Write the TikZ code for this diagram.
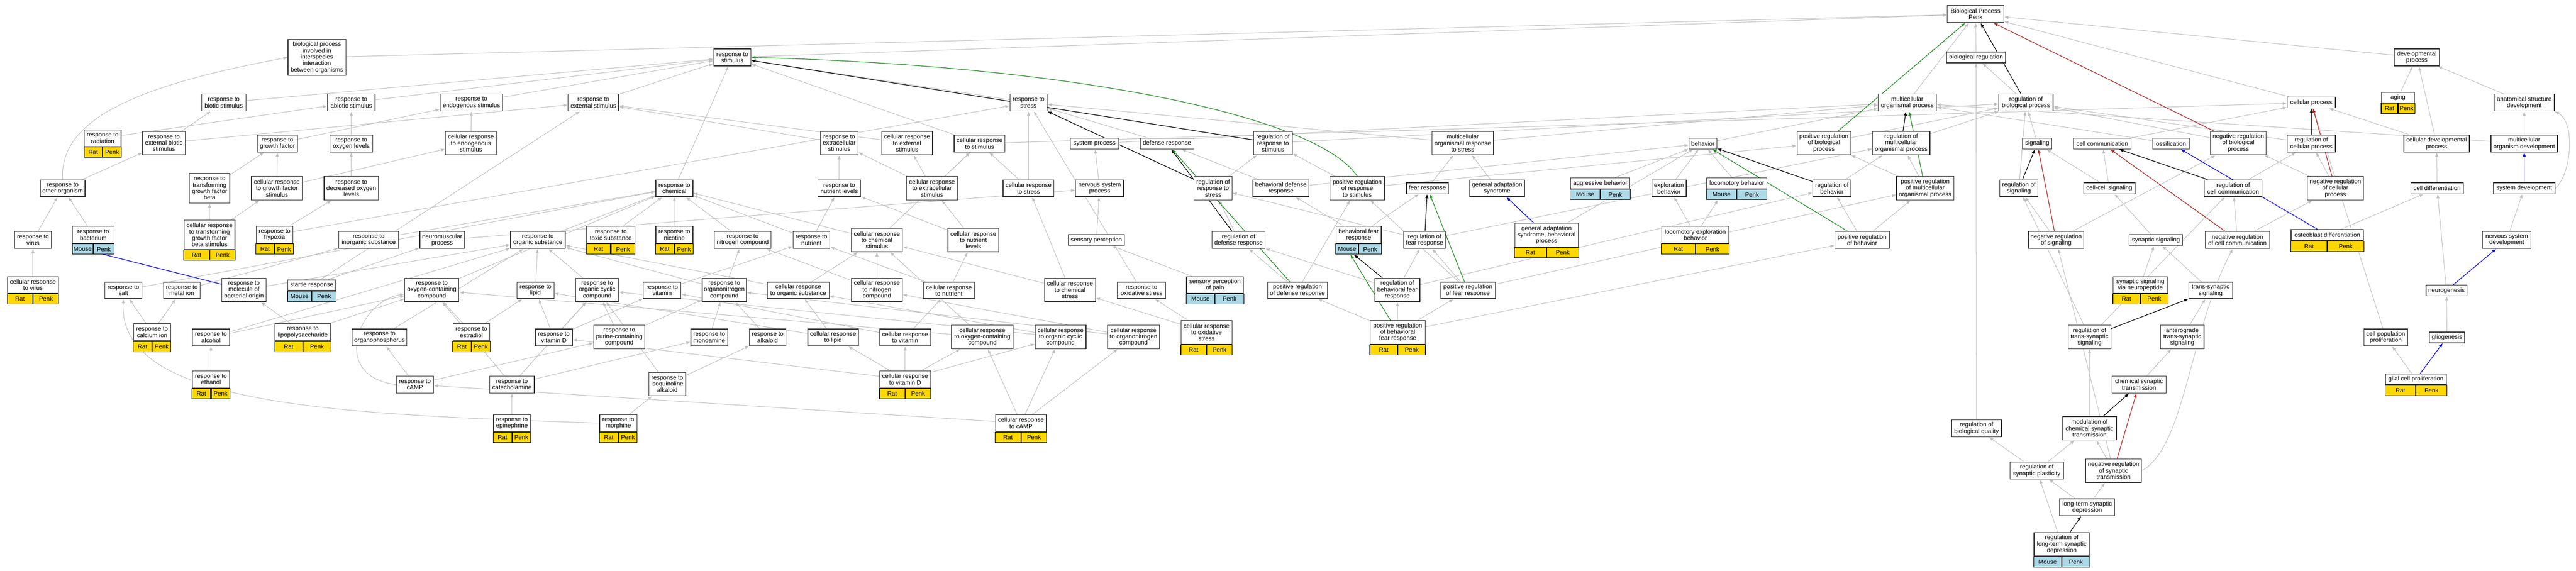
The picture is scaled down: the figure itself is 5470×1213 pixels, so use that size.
\documentclass[tikz,border=0pt]{standalone}
\usepackage{fontspec}
\setmainfont{Liberation Sans}
\usetikzlibrary{shapes, arrows.meta, backgrounds}

\definecolor{edgegrey}{RGB}{192,192,192}
\definecolor{boxline}{RGB}{50,50,50}
\definecolor{ratgold}{RGB}{255,215,0}
\definecolor{mouseblue}{RGB}{173,216,230}
\definecolor{posgreen}{RGB}{34,139,34}
\definecolor{negred}{RGB}{178,34,34}
\definecolor{partblue}{RGB}{0,0,255}

\newcommand{\termfont}{\fontsize{12.9pt}{13.5pt}\selectfont}

% species + gene cells under a term: node, half width, species, colour
\newcommand{\tagrow}[4]{%
  \node[tag, fill=#4, minimum width=#2pt, anchor=north east] (#1-sp) at (#1.south) {#3};
  \node[tag, fill=#4, minimum width=#2pt, anchor=north west] (#1-gene) at (#1.south) {Penk};
}

\begin{document}
\begin{tikzpicture}[x=1pt, y=-1pt]
      \tikzstyle{term} = [
        rectangle,
        draw=boxline,
        line width=1.4pt,
        fill=white,
        align=center,
        inner sep=1pt,
        font=\termfont
      ]

      \tikzstyle{tag} = [
        rectangle,
        draw=black,
        line width=1.2pt,
        minimum height=22pt,
        inner sep=0pt,
        font=\termfont
      ]

      \tikzstyle{oneline} = [minimum height=23pt]
      \tikzstyle{twoline} = [minimum height=36pt]
      \tikzstyle{threeline} = [minimum height=50pt]
      \tikzstyle{fourline} = [minimum height=63pt]
      \tikzstyle{fiveline} = [minimum height=76pt]

      \tikzstyle{isa} = [draw=edgegrey, line width=1.1pt, -{Latex[length=9pt, width=7pt]}]
      \tikzstyle{regulates} = [draw=black, line width=1.3pt, -{Latex[length=9pt, width=7pt]}]
      \tikzstyle{posreg} = [draw=posgreen, line width=1.3pt, -{Latex[length=9pt, width=7pt]}]
      \tikzstyle{negreg} = [draw=negred, line width=1.3pt, -{Latex[length=9pt, width=7pt]}]
      \tikzstyle{partof} = [draw=partblue, line width=1.3pt, -{Latex[length=9pt, width=7pt]}]

      \useasboundingbox (0,0) rectangle (5470,1213);

      % top terms
      \node[term, fiveline, minimum width=123pt] (bpinter) at (673,122) {biological process\\involved in\\interspecies\\interaction\\between organisms};
      \node[term, twoline, minimum width=79pt] (stimulus) at (1555,122) {response to\\stimulus};
      \node[term, twoline, minimum width=120pt] (root) at (4195,30) {Biological Process\\Penk};
      \node[term, oneline, minimum width=125pt] (bioreg) at (4196,122) {biological regulation};
      \node[term, twoline, minimum width=95pt] (devproc) at (5132,122) {developmental\\process};

      % second row
      \node[term, twoline, minimum width=94pt] (biotic) at (475,218) {response to\\biotic stimulus};
      \node[term, twoline, minimum width=101pt] (abiotic) at (746,218) {response to\\abiotic stimulus};
      \node[term, twoline, minimum width=133pt] (endogenous) at (1001,218) {response to\\endogenous stimulus};
      \node[term, twoline, minimum width=108pt] (external) at (1260,218) {response to\\external stimulus};
      \node[term, twoline, minimum width=79pt] (stress) at (2184,218) {response to\\stress};
      \node[term, twoline, minimum width=123pt] (multiproc) at (4050,218) {multicellular\\organismal process};
      \node[term, twoline, minimum width=115pt] (regbio) at (4302,218) {regulation of\\biological process};
      \node[term, oneline, minimum width=102pt] (cellproc) at (4908,218) {cellular process};
      \node[term, minimum height=22pt, minimum width=70pt] (aging) at (5092,207) {aging};
      \node[term, twoline, minimum width=128pt] (anatomical) at (5360,218) {anatomical structure\\development};

      % third row
      \node[term, minimum height=35pt, minimum width=78pt] (radiation) at (218,293.5) {response to\\radiation};
      \node[term, threeline, minimum width=90pt] (extbiotic) at (348,304) {response to\\external biotic\\stimulus};
      \node[term, twoline, minimum width=85pt] (growthfactor) at (589,305) {response to\\growth factor};
      \node[term, twoline, minimum width=91pt] (oxygenlevels) at (746,305) {response to\\oxygen levels};
      \node[term, threeline, minimum width=108pt] (cellendog) at (1000,304) {cellular response\\to endogenous\\stimulus};
      \node[term, threeline, minimum width=80pt] (extracellular) at (1782,304) {response to\\extracellular\\stimulus};
      \node[term, threeline, minimum width=108pt] (cellexternal) at (1926,304) {cellular response\\to external\\stimulus};
      \node[term, twoline, minimum width=108pt] (cellstimulus) at (2080,305) {cellular response\\to stimulus};
      \node[term, oneline, minimum width=103pt] (systemprocess) at (2324,305) {system process};
      \node[term, oneline, minimum width=114pt] (defense) at (2478,305) {defense response};
      \node[term, threeline, minimum width=82pt] (regstimulus) at (2703,304) {regulation of\\response to\\stimulus};
      \node[term, threeline, minimum width=131pt] (multistress) at (3106,304) {multicellular\\organismal response\\to stress};
      \node[term, oneline, minimum width=59pt] (behavior) at (3616,305) {behavior};
      \node[term, threeline, minimum width=114pt] (posbio) at (3873,304) {positive regulation\\of biological\\process};
      \node[term, threeline, minimum width=122pt] (regmulti) at (4037,304) {regulation of\\multicellular\\organismal process};
      \node[term, oneline, minimum width=62pt] (signaling) at (4326,305) {signaling};
      \node[term, oneline, minimum width=122pt] (cellcomm) at (4464,305) {cell communication};
      \node[term, oneline, minimum width=77pt] (ossification) at (4610,305) {ossification};
      \node[term, threeline, minimum width=118pt] (negbio) at (4753,304) {negative regulation\\of biological\\process};
      \node[term, twoline, minimum width=102pt] (regcell) at (4908,305) {regulation of\\cellular process};
      \node[term, twoline, minimum width=139pt] (celldev) at (5174,305) {cellular developmental\\process};
      \node[term, twoline, minimum width=141pt] (multidev) at (5360,305) {multicellular\\organism development};

      % fourth row
      \node[term, twoline, minimum width=95pt] (otherorg) at (133,400) {response to\\other organism};
      \node[term, fourline, minimum width=86pt] (tgfbeta) at (445,400) {response to\\transforming\\growth factor\\beta};
      \node[term, threeline, minimum width=108pt] (cellgf) at (588,400) {cellular response\\to growth factor\\stimulus};
      \node[term, threeline, minimum width=116pt] (decoxygen) at (746,400) {response to\\decreased oxygen\\levels};
      \node[term, twoline, minimum width=79pt] (chemical) at (1432,400) {response to\\chemical};
      \node[term, twoline, minimum width=91pt] (nutrientlevels) at (1782,400) {response to\\nutrient levels};
      \node[term, threeline, minimum width=108pt] (cellextracellular) at (1979,400) {cellular response\\to extracellular\\stimulus};
      \node[term, twoline, minimum width=108pt] (cellstress) at (2184,400) {cellular response\\to stress};
      \node[term, twoline, minimum width=102pt] (nervoussys) at (2335,400) {nervous system\\process};
      \node[term, threeline, minimum width=81pt] (regstress) at (2576,400) {regulation of\\response to\\stress};
      \node[term, twoline, minimum width=119pt] (behavdefense) at (2720,400) {behavioral defense\\response};
      \node[term, threeline, minimum width=115pt] (posstimulus) at (2882,400) {positive regulation\\of response\\to stimulus};
      \node[term, oneline, minimum width=89pt] (fear) at (3031,400) {fear response};
      \node[term, twoline, minimum width=116pt] (gas) at (3179,400) {general adaptation\\syndrome};
      \node[term, oneline, minimum width=126pt] (aggressive) at (3398,389.5) {aggressive behavior};
      \node[term, twoline, minimum width=73pt] (exploration) at (3544,400) {exploration\\behavior};
      \node[term, oneline, minimum width=127pt] (locomotory) at (3688,389.5) {locomotory behavior};
      \node[term, twoline, minimum width=81pt] (regbehavior) at (3890,400) {regulation of\\behavior};
      \node[term, threeline, minimum width=122pt] (posmulti) at (4088,400) {positive regulation\\of multicellular\\organismal process};
      \node[term, twoline, minimum width=81pt] (regsignaling) at (4287,400) {regulation of\\signaling};
      \node[term, oneline, minimum width=109pt] (cellcell) at (4479,400) {cell-cell signaling};
      \node[term, twoline, minimum width=123pt] (regcomm) at (4742,400) {regulation of\\cell communication};
      \node[term, threeline, minimum width=119pt] (negcell) at (4959,400) {negative regulation\\of cellular\\process};
      \node[term, oneline, minimum width=111pt] (celldiff) at (5175,400) {cell differentiation};
      \node[term, oneline, minimum width=131pt] (sysdev) at (5360,400) {system development};

      % fifth row
      \node[term, twoline, minimum width=78pt] (virus) at (70,510) {response to\\virus};
      \node[term, twoline, minimum width=88pt] (bacterium) at (198,499) {response to\\bacterium};
      \node[term, minimum height=62pt, minimum width=108pt] (celltgf) at (445,499) {cellular response\\to transforming\\growth factor\\beta stimulus};
      \node[term, twoline, minimum width=78pt] (hypoxia) at (583,499) {response to\\hypoxia};
      \node[term, twoline, minimum width=127pt] (inorganic) at (783,510) {response to\\inorganic substance};
      \node[term, twoline, minimum width=95pt] (neuromuscular) at (939,510) {neuromuscular\\process};
      \node[term, twoline, minimum width=116pt] (organic) at (1142,510) {response to\\organic substance};
      \node[term, twoline, minimum width=102pt] (toxic) at (1297,499) {response to\\toxic substance};
      \node[term, twoline, minimum width=79pt] (nicotine) at (1432,499) {response to\\nicotine};
      \node[term, twoline, minimum width=121pt] (nitrogen) at (1577,510) {response to\\nitrogen compound};
      \node[term, twoline, minimum width=78pt] (nutrient) at (1723,510) {response to\\nutrient};
      \node[term, threeline, minimum width=108pt] (cellchemical) at (1862,510) {cellular response\\to chemical\\stimulus};
      \node[term, threeline, minimum width=108pt] (cellnutrientlevels) at (2067,510) {cellular response\\to nutrient\\levels};
      \node[term, oneline, minimum width=120pt] (sensory) at (2328,510) {sensory perception};
      \node[term, twoline, minimum width=113pt] (regdefense) at (2630,510) {regulation of\\defense response};
      \node[term, twoline, minimum width=96pt] (behavfear) at (2885,499) {behavioral fear\\response};
      \node[term, twoline, minimum width=89pt] (regfear) at (3025,510) {regulation of\\fear response};
      \node[term, threeline, minimum width=135pt] (gasbehav) at (3284,499.5) {general adaptation\\syndrome, behavioral\\process};
      \node[term, twoline, minimum width=143pt] (locoexpl) at (3600,499) {locomotory exploration\\behavior};
      \node[term, twoline, minimum width=115pt] (posbehavior) at (3954,510) {positive regulation\\of behavior};
      \node[term, twoline, minimum width=118pt] (negsignaling) at (4366,510) {negative regulation\\of signaling};
      \node[term, oneline, minimum width=114pt] (synaptic) at (4578,510) {synaptic signaling};
      \node[term, twoline, minimum width=137pt] (negcomm) at (4751,510) {negative regulation\\of cell communication};
      \node[term, oneline, minimum width=154pt] (osteoblast) at (4942,499.5) {osteoblast differentiation};
      \node[term, twoline, minimum width=103pt] (nsdev) at (5323,510) {nervous system\\development};

      % sixth row
      \node[term, minimum height=35pt, minimum width=108pt] (cellvirus) at (70,605.5) {cellular response\\to virus};
      \node[term, minimum height=35pt, minimum width=79pt] (salt) at (262,617) {response to\\salt};
      \node[term, minimum height=35pt, minimum width=78pt] (metalion) at (386,617) {response to\\metal ion};
      \node[term, threeline, minimum width=94pt] (bactmolecule) at (518,616) {response to\\molecule of\\bacterial origin};
      \node[term, minimum height=22pt, minimum width=102pt] (startle) at (662,606) {startle response};
      \node[term, threeline, minimum width=115pt] (oxygencont) at (917,616) {response to\\oxygen-containing\\compound};
      \node[term, minimum height=35pt, minimum width=79pt] (lipid) at (1137,617) {response to\\lipid};
      \node[term, threeline, minimum width=91pt] (organiccyclic) at (1268,616) {response to\\organic cyclic\\compound};
      \node[term, minimum height=35pt, minimum width=80pt] (vitamin) at (1406,617) {response to\\vitamin};
      \node[term, threeline, minimum width=94pt] (organonitrogen) at (1538,616) {response to\\organonitrogen\\compound};
      \node[term, minimum height=35pt, minimum width=131pt] (cellorganic) at (1695,617) {cellular response\\to organic substance};
      \node[term, threeline, minimum width=108pt] (cellnitrogen) at (1862,616) {cellular response\\to nitrogen\\compound};
      \node[term, minimum height=35pt, minimum width=108pt] (cellnutrient) at (2015,617) {cellular response\\to nutrient};
      \node[term, threeline, minimum width=108pt] (cellchemstress) at (2272,616) {cellular response\\to chemical\\stress};
      \node[term, minimum height=35pt, minimum width=103pt] (oxidative) at (2424,617) {response to\\oxidative stress};
      \node[term, minimum height=35pt, minimum width=121pt] (pain) at (2580,605.5) {sensory perception\\of pain};
      \node[term, minimum height=35pt, minimum width=127pt] (posdefense) at (2755,617) {positive regulation\\of defense response};
      \node[term, threeline, minimum width=96pt] (regbehavfear) at (2967,616) {regulation of\\behavioral fear\\response};
      \node[term, minimum height=35pt, minimum width=116pt] (posfear) at (3117,617) {positive regulation\\of fear response};
      \node[term, minimum height=35pt, minimum width=116pt] (synneuro) at (4545,605.5) {synaptic signaling\\via neuropeptide};
      \node[term, minimum height=35pt, minimum width=93pt] (transsyn) at (4694,617) {trans-synaptic\\signaling};
      \node[term, oneline, minimum width=87pt] (neurogenesis) at (5195,617) {neurogenesis};

      % seventh row
      \node[term, twoline, minimum width=79pt] (calcium) at (323,706) {response to\\calcium ion};
      \node[term, twoline, minimum width=79pt] (alcohol) at (448,717) {response to\\alcohol};
      \node[term, twoline, minimum width=118pt] (lps) at (643,706) {response to\\lipopolysaccharide};
      \node[term, twoline, minimum width=116pt] (organophos) at (806,717) {response to\\organophosphorus};
      \node[term, twoline, minimum width=78pt] (estradiol) at (1001,706) {response to\\estradiol};
      \node[term, twoline, minimum width=79pt] (vitaminD) at (1176,717) {response to\\vitamin D};
      \node[term, threeline, minimum width=108pt] (purine) at (1315,716) {response to\\purine-containing\\compound};
      \node[term, twoline, minimum width=78pt] (monoamine) at (1506,717) {response to\\monoamine};
      \node[term, twoline, minimum width=78pt] (alkaloid) at (1630,717) {response to\\alkaloid};
      \node[term, twoline, minimum width=107pt] (celllipid) at (1769,717) {cellular response\\to lipid};
      \node[term, twoline, minimum width=108pt] (cellvitamin) at (1922,717) {cellular response\\to vitamin};
      \node[term, threeline, minimum width=131pt] (celloxygen) at (2086,716) {cellular response\\to oxygen-containing\\compound};
      \node[term, threeline, minimum width=108pt] (cellcyclic) at (2252,716) {cellular response\\to organic cyclic\\compound};
      \node[term, threeline, minimum width=110pt] (cellorganonitrogen) at (2407,716) {cellular response\\to organonitrogen\\compound};
      \node[term, threeline, minimum width=108pt] (celloxidative) at (2562,706) {cellular response\\to oxidative\\stress};
      \node[term, threeline, minimum width=117pt] (posbehavfear) at (2968,706) {positive regulation\\of behavioral\\fear response};
      \node[term, threeline, minimum width=91pt] (regtranssyn) at (4437,716) {regulation of\\trans-synaptic\\signaling};
      \node[term, threeline, minimum width=92pt] (antero) at (4634,716) {anterograde\\trans-synaptic\\signaling};
      \node[term, twoline, minimum width=93pt] (cellpop) at (5066,717) {cell population\\proliferation};
      \node[term, oneline, minimum width=74pt] (gliogenesis) at (5196,717) {gliogenesis};

      % lower rows
      \node[term, twoline, minimum width=79pt] (ethanol) at (448,806) {response to\\ethanol};
      \node[term, twoline, minimum width=79pt] (camp) at (881,817) {response to\\cAMP};
      \node[term, twoline, minimum width=95pt] (catecholamine) at (1087,817) {response to\\catecholamine};
      \node[term, threeline, minimum width=78pt] (isoquinoline) at (1417,816) {response to\\isoquinoline\\alkaloid};
      \node[term, twoline, minimum width=108pt] (cellvitaminD) at (1922,806) {cellular response\\to vitamin D};
      \node[term, twoline, minimum width=115pt] (chemsyn) at (4542,817) {chemical synaptic\\transmission};
      \node[term, minimum height=22pt, minimum width=130pt] (glialprolif) at (5130,806) {glial cell proliferation};
      \node[term, twoline, minimum width=78pt] (epinephrine) at (1087,899) {response to\\epinephrine};
      \node[term, twoline, minimum width=79pt] (morphine) at (1313,899) {response to\\morphine};
      \node[term, twoline, minimum width=108pt] (cellcamp) at (2168,899) {cellular response\\to cAMP};
      \node[term, twoline, minimum width=106pt] (regbioqual) at (4197,910) {regulation of\\biological quality};
      \node[term, threeline, minimum width=114pt] (modulation) at (4437,910) {modulation of\\chemical synaptic\\transmission};
      \node[term, twoline, minimum width=114pt] (regplasticity) at (4325,1000) {regulation of\\synaptic plasticity};
      \node[term, threeline, minimum width=119pt] (negsyn) at (4488,1000) {negative regulation\\of synaptic\\transmission};
      \node[term, twoline, minimum width=117pt] (ltd) at (4432,1078) {long-term synaptic\\depression};
      \node[term, threeline, minimum width=118pt] (regltd) at (4378,1156.5) {regulation of\\long-term synaptic\\depression};

      % annotated terms
      \tagrow{aging}{35}{Rat}{ratgold}
      \tagrow{radiation}{39}{Rat}{ratgold}
      \tagrow{aggressive}{63}{Mouse}{mouseblue}
      \tagrow{locomotory}{63.5}{Mouse}{mouseblue}
      \tagrow{bacterium}{44}{Mouse}{mouseblue}
      \tagrow{celltgf}{54}{Rat}{ratgold}
      \tagrow{hypoxia}{39}{Rat}{ratgold}
      \tagrow{toxic}{51}{Rat}{ratgold}
      \tagrow{nicotine}{39.5}{Rat}{ratgold}
      \tagrow{behavfear}{48}{Mouse}{mouseblue}
      \tagrow{gasbehav}{67.5}{Rat}{ratgold}
      \tagrow{locoexpl}{71.5}{Rat}{ratgold}
      \tagrow{osteoblast}{77}{Rat}{ratgold}
      \tagrow{cellvirus}{54}{Rat}{ratgold}
      \tagrow{startle}{51}{Mouse}{mouseblue}
      \tagrow{pain}{60.5}{Mouse}{mouseblue}
      \tagrow{synneuro}{58}{Rat}{ratgold}
      \tagrow{calcium}{39.5}{Rat}{ratgold}
      \tagrow{lps}{59}{Rat}{ratgold}
      \tagrow{estradiol}{39}{Rat}{ratgold}
      \tagrow{celloxidative}{54}{Rat}{ratgold}
      \tagrow{posbehavfear}{58.5}{Rat}{ratgold}
      \tagrow{ethanol}{39.5}{Rat}{ratgold}
      \tagrow{cellvitaminD}{54}{Rat}{ratgold}
      \tagrow{glialprolif}{65}{Rat}{ratgold}
      \tagrow{epinephrine}{39}{Rat}{ratgold}
      \tagrow{morphine}{39.5}{Rat}{ratgold}
      \tagrow{cellcamp}{54}{Rat}{ratgold}
      \tagrow{regltd}{59}{Mouse}{mouseblue}

      \begin{pgfonlayer}{background}
      \fill[white] (0,0) rectangle (5470,1213);

      % is_a
      \draw[isa] (bpinter) -- (root);
      \draw[isa] (stimulus) -- (root);
      \draw[isa] (multiproc) -- (root);
      \draw[isa] (bioreg) -- (root);
      \draw[isa] (cellproc) -- (root);
      \draw[isa] (devproc) -- (root);
      \draw[isa] (biotic) -- (stimulus);
      \draw[isa] (abiotic) -- (stimulus);
      \draw[isa] (endogenous) -- (stimulus);
      \draw[isa] (external) -- (stimulus);
      \draw[isa] (stress) -- (stimulus);
      \draw[isa] (chemical) -- (stimulus);
      \draw[isa] (cellstimulus) -- (stimulus);
      \draw[isa] (cellstimulus) -- (cellproc);
      \draw[isa] (radiation) -- (abiotic);
      \draw[isa] (extbiotic) -- (biotic);
      \draw[isa] (extbiotic) -- (external);
      \draw[isa] (otherorg) -- (extbiotic);
      \draw[isa] (otherorg.north) .. controls (125,250) and (300,180) .. (bpinter.west);
      \draw[isa] (virus) -- (otherorg);
      \draw[isa] (bacterium) -- (otherorg);
      \draw[isa] (cellvirus) -- (virus);
      \draw[isa] (growthfactor) -- (endogenous);
      \draw[isa] (tgfbeta) -- (growthfactor);
      \draw[isa] (cellgf) -- (growthfactor);
      \draw[isa] (cellgf) -- (cellendog);
      \draw[isa] (celltgf) -- (tgfbeta);
      \draw[isa] (celltgf) -- (cellgf);
      \draw[isa] (oxygenlevels) -- (abiotic);
      \draw[isa] (decoxygen) -- (oxygenlevels);
      \draw[isa] (hypoxia) -- (decoxygen);
      \draw[isa] (hypoxia) -- (stress);
      \draw[isa] (cellendog) -- (endogenous);
      \draw[isa] (inorganic) -- (chemical);
      \draw[isa] (neuromuscular) -- (nervoussys);
      \draw[isa] (startle) -- (external);
      \draw[isa] (startle) -- (neuromuscular);
      \draw[isa] (salt) -- (chemical);
      \draw[isa] (metalion) -- (inorganic);
      \draw[isa] (calcium) -- (salt);
      \draw[isa] (calcium) -- (metalion);
      \draw[isa] (bactmolecule) -- (organic);
      \draw[isa] (lps) -- (bactmolecule);
      \draw[isa] (lps) -- (oxygencont);
      \draw[isa] (alcohol) -- (oxygencont);
      \draw[isa] (alcohol) -- (organic);
      \draw[isa] (ethanol) -- (alcohol);
      \draw[isa] (organophos) -- (organic);
      \draw[isa] (camp) -- (organophos);
      \draw[isa] (camp) -- (purine);
      \draw[isa] (camp.west) .. controls (700,800) and (760,640) .. (oxygencont);
      \draw[isa] (oxygencont) -- (chemical);
      \draw[isa] (organic) -- (chemical);
      \draw[isa] (toxic) -- (chemical);
      \draw[isa] (nicotine) -- (chemical);
      \draw[isa] (nitrogen) -- (chemical);
      \draw[isa] (nutrient) -- (nutrientlevels);
      \draw[isa] (nutrient) -- (chemical);
      \draw[isa] (nutrientlevels) -- (extracellular);
      \draw[isa] (extracellular) -- (external);
      \draw[isa] (lipid) -- (organic);
      \draw[isa] (organiccyclic) -- (organic);
      \draw[isa] (vitamin) -- (nutrient);
      \draw[isa] (organonitrogen) -- (organic);
      \draw[isa] (organonitrogen) -- (nitrogen);
      \draw[isa] (cellorganic) -- (organic);
      \draw[isa] (cellorganic) -- (cellchemical);
      \draw[isa] (estradiol) -- (lipid);
      \draw[isa] (estradiol) -- (oxygencont);
      \draw[isa] (vitaminD) -- (lipid);
      \draw[isa] (vitaminD) -- (organiccyclic);
      \draw[isa] (vitaminD) -- (vitamin);
      \draw[isa] (purine) -- (organiccyclic);
      \draw[isa] (purine) -- (organonitrogen);
      \draw[isa] (monoamine) -- (organonitrogen);
      \draw[isa] (alkaloid) -- (organonitrogen);
      \draw[isa] (celllipid) -- (lipid);
      \draw[isa] (celllipid) -- (cellorganic);
      \draw[isa] (catecholamine) -- (monoamine);
      \draw[isa] (catecholamine) -- (oxygencont);
      \draw[isa] (catecholamine) -- (organiccyclic);
      \draw[isa] (isoquinoline) -- (alkaloid);
      \draw[isa] (isoquinoline) -- (organiccyclic);
      \draw[isa] (epinephrine) -- (catecholamine);
      \draw[isa] (morphine) -- (isoquinoline);
      \draw[isa] (morphine.west) .. controls (700,880) and (250,860) .. (salt.south);
      \draw[isa] (cellvitaminD) -- (vitaminD);
      \draw[isa] (cellvitaminD) -- (cellvitamin);
      \draw[isa] (cellvitaminD) -- (celloxygen);
      \draw[isa] (cellvitaminD) -- (cellcyclic);
      \draw[isa] (cellvitaminD) -- (celllipid);
      \draw[isa] (cellcamp) -- (camp);
      \draw[isa] (cellcamp) -- (celloxygen);
      \draw[isa] (cellcamp) -- (cellcyclic);
      \draw[isa] (cellcamp) -- (cellorganonitrogen);
      \draw[isa] (cellvitamin) -- (vitamin);
      \draw[isa] (cellvitamin) -- (cellnutrient);
      \draw[isa] (celloxygen) -- (oxygencont);
      \draw[isa] (celloxygen) -- (cellchemical);
      \draw[isa] (cellcyclic) -- (organiccyclic);
      \draw[isa] (cellcyclic) -- (cellorganic);
      \draw[isa] (cellorganonitrogen) -- (organonitrogen);
      \draw[isa] (cellorganonitrogen) -- (cellnitrogen);
      \draw[isa] (cellnitrogen) -- (nitrogen);
      \draw[isa] (cellnitrogen) -- (cellchemical);
      \draw[isa] (cellnutrient) -- (nutrient);
      \draw[isa] (cellnutrient) -- (cellnutrientlevels);
      \draw[isa] (cellchemical) -- (chemical);
      \draw[isa] (cellchemical) -- (cellstimulus);
      \draw[isa] (cellnutrientlevels) -- (nutrientlevels);
      \draw[isa] (cellnutrientlevels) -- (cellextracellular);
      \draw[isa] (cellextracellular) -- (extracellular);
      \draw[isa] (cellextracellular) -- (cellexternal);
      \draw[isa] (cellextracellular) -- (cellstimulus);
      \draw[isa] (cellexternal) -- (external);
      \draw[isa] (cellstress) -- (stress);
      \draw[isa] (cellstress) -- (cellstimulus);
      \draw[isa] (cellchemstress) -- (cellstress);
      \draw[isa] (cellchemstress) -- (cellchemical);
      \draw[isa] (oxidative) -- (stress);
      \draw[isa] (celloxidative) -- (oxidative);
      \draw[isa] (celloxidative) -- (cellchemstress);
      \draw[isa] (pain) -- (sensory);
      \draw[isa] (sensory) -- (nervoussys);
      \draw[isa] (nervoussys) -- (systemprocess);
      \draw[isa] (systemprocess) -- (multiproc);
      \draw[isa] (defense) -- (stress);
      \draw[isa] (regstress) -- (regstimulus);
      \draw[isa] (regdefense) -- (regstress);
      \draw[isa] (posdefense) -- (regdefense);
      \draw[isa] (posdefense) -- (posstimulus);
      \draw[isa] (behavdefense) -- (defense);
      \draw[isa] (behavdefense) -- (behavior);
      \draw[isa] (regstimulus) -- (regbio);
      \draw[isa] (posstimulus) -- (regstimulus);
      \draw[isa] (posstimulus) -- (posbio);
      \draw[isa] (multistress) -- (stress);
      \draw[isa] (multistress) -- (multiproc);
      \draw[isa] (fear) -- (multistress);
      \draw[isa] (gas) -- (multistress);
      \draw[isa] (gasbehav) -- (behavior);
      \draw[isa] (aggressive) -- (behavior);
      \draw[isa] (exploration) -- (behavior);
      \draw[isa] (locomotory) -- (behavior);
      \draw[isa] (locoexpl) -- (exploration);
      \draw[isa] (locoexpl) -- (locomotory-sp);
      \draw[isa] (behavfear) -- (fear);
      \draw[isa] (behavfear) -- (behavdefense);
      \draw[isa] (regfear) -- (regstress);
      \draw[isa] (regfear) -- (regmulti);
      \draw[isa] (regbehavfear) -- (regdefense);
      \draw[isa] (regbehavfear) -- (regfear);
      \draw[isa] (regbehavfear) -- (regbehavior);
      \draw[isa] (posfear) -- (regfear);
      \draw[isa] (posfear) -- (posstimulus);
      \draw[isa] (posfear) -- (posmulti);
      \draw[isa] (posbehavfear) -- (regbehavfear);
      \draw[isa] (posbehavfear) -- (posdefense);
      \draw[isa] (posbehavfear) -- (posfear);
      \draw[isa] (posbehavfear) -- (posbehavior);
      \draw[isa] (behavior) -- (multiproc);
      \draw[isa] (posbio) -- (regbio);
      \draw[isa] (regmulti) -- (regbio);
      \draw[isa] (regbehavior) -- (regmulti);
      \draw[isa] (posmulti) -- (regmulti);
      \draw[isa] (posmulti) -- (posbio);
      \draw[isa] (posbehavior) -- (regbehavior);
      \draw[isa] (posbehavior) -- (posmulti);
      \draw[isa] (regbio) -- (bioreg);
      \draw[isa] (signaling) -- (regbio);
      \draw[isa] (regsignaling) -- (regbio);
      \draw[isa] (negsignaling) -- (regsignaling);
      \draw[isa] (negsignaling) -- (negbio);
      \draw[isa] (cellcomm) -- (cellproc);
      \draw[isa] (cellcell) -- (cellcomm);
      \draw[isa] (cellcell) -- (signaling);
      \draw[isa] (regcomm) -- (regcell);
      \draw[isa] (negcomm) -- (regcomm);
      \draw[isa] (negcomm) -- (negcell);
      \draw[isa] (synaptic) -- (cellcell);
      \draw[isa] (synneuro) -- (synaptic);
      \draw[isa] (transsyn) -- (synaptic);
      \draw[isa] (antero) -- (transsyn);
      \draw[isa] (chemsyn) -- (antero);
      \draw[isa] (regtranssyn) -- (regsignaling);
      \draw[isa] (regtranssyn) -- (regcomm);
      \draw[isa] (modulation) -- (regtranssyn);
      \draw[isa] (negsyn) -- (modulation);
      \draw[isa] (negsyn) -- (negsignaling);
      \draw[isa] (negsyn.east) .. controls (4640,950) and (4650,700) .. (negcomm);
      \draw[isa] (regplasticity) -- (regbioqual);
      \draw[isa] (regplasticity) -- (modulation);
      \draw[isa] (ltd) -- (regplasticity);
      \draw[isa] (ltd) -- (negsyn);
      \draw[isa] (regltd) -- (regplasticity);
      \draw[isa] (regbioqual) -- (bioreg);
      \draw[isa] (negbio) -- (regbio);
      \draw[isa] (regcell) -- (regbio);
      \draw[isa] (negcell) -- (regcell);
      \draw[isa] (negcell) -- (negbio);
      \draw[isa] (ossification) -- (multiproc);
      \draw[isa] (osteoblast) -- (celldiff);
      \draw[isa] (celldiff) -- (celldev);
      \draw[isa] (celldev) -- (devproc);
      \draw[isa] (celldev) -- (cellproc);
      \draw[isa] (aging) -- (devproc);
      \draw[isa] (anatomical) -- (devproc);
      \draw[isa] (multidev) -- (anatomical);
      \draw[isa] (multidev) -- (multiproc);
      \draw[isa] (sysdev.east) .. controls (5460,370) and (5470,260) .. (anatomical.south east);
      \draw[isa] (nsdev) -- (sysdev);
      \draw[isa] (neurogenesis) -- (celldiff);
      \draw[isa] (gliogenesis) -- (neurogenesis);
      \draw[isa] (glialprolif) -- (cellpop);
      \draw[isa] (cellpop) -- (cellproc);

      % regulates
      \draw[regulates] (regbio) -- (root);
      \draw[regulates] (regstimulus) -- (stimulus);
      \draw[regulates] (regstress) -- (stress);
      \draw[regulates] (regdefense) -- (defense);
      \draw[regulates] (regfear) -- (fear);
      \draw[regulates] (regbehavfear) -- (behavfear-sp);
      \draw[regulates] (regmulti) -- (multiproc);
      \draw[regulates] (regbehavior) -- (behavior);
      \draw[regulates] (regsignaling) -- (signaling);
      \draw[regulates] (regcomm) -- (cellcomm);
      \draw[regulates] (regcell) -- (cellproc);
      \draw[regulates] (regtranssyn) -- (transsyn);
      \draw[regulates] (modulation) -- (chemsyn);
      \draw[regulates] (regltd) -- (ltd);

      % positively regulates
      \draw[posreg] (posbio) -- (root);
      \draw[posreg] (posstimulus.north) .. controls (2800,250) and (2300,140) .. (stimulus.east);
      \draw[posreg] (posdefense) -- (defense);
      \draw[posreg] (posfear) -- (fear);
      \draw[posreg] (posbehavfear) -- (behavfear-sp);
      \draw[posreg] (posmulti) -- (multiproc);
      \draw[posreg] (posbehavior) -- (behavior);

      % negatively regulates
      \draw[negreg] (negbio) -- (root);
      \draw[negreg] (negsignaling) -- (signaling);
      \draw[negreg] (negcomm) -- (cellcomm);
      \draw[negreg] (negcell) -- (cellproc);
      \draw[negreg] (negsyn) -- (chemsyn);

      % part of
      \draw[partof] (bactmolecule) -- (bacterium-sp);
      \draw[partof] (gasbehav) -- (gas);
      \draw[partof] (osteoblast) -- (ossification);
      \draw[partof] (sysdev) -- (multidev);
      \draw[partof] (neurogenesis) -- (nsdev);
      \draw[partof] (glialprolif) -- (gliogenesis);
      \end{pgfonlayer}
    \end{tikzpicture}
\end{document}
